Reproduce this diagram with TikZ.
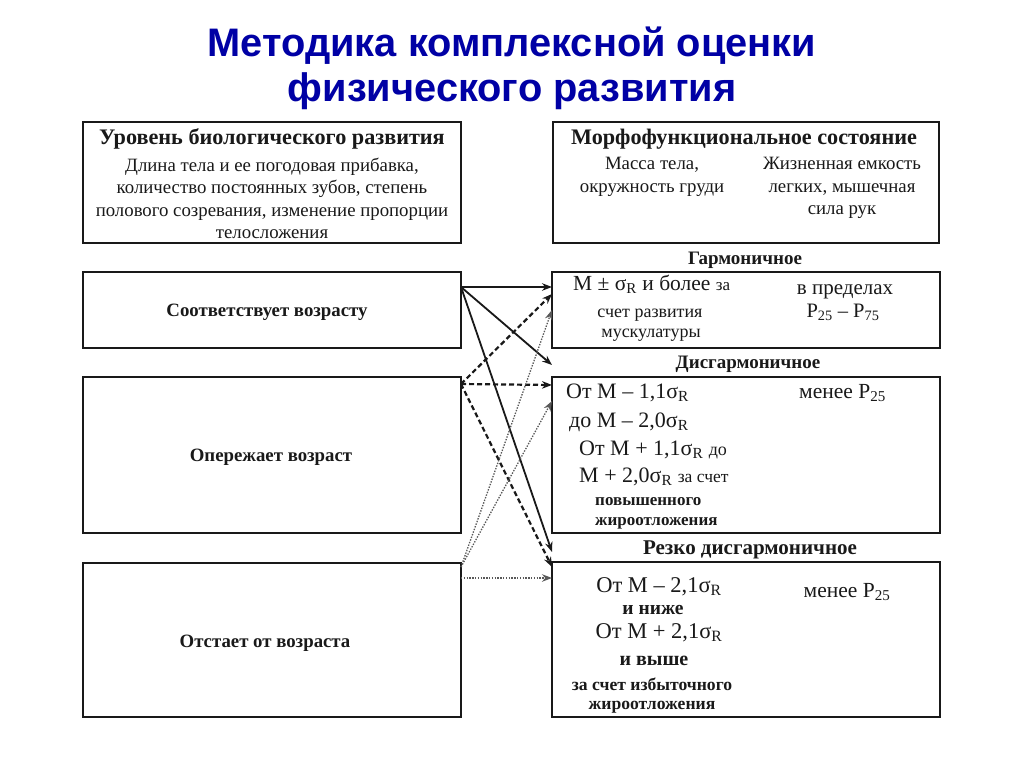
\documentclass[tikz,border=0pt]{standalone}
\usepackage{fontspec}
\setmainfont{Liberation Serif}
\newfontfamily\titlefont{Liberation Sans}
\usetikzlibrary{arrows.meta}
\definecolor{titleblue}{RGB}{0,0,165}
\definecolor{ink}{RGB}{25,25,25}
\newcommand{\fs}[1]{\fontsize{#1}{#1}\selectfont}
\newcommand{\fsb}[2]{\fontsize{#1}{#2}\selectfont}
\newcommand{\sg}{σ\textsubscript{R}}
\tikzset{
  box/.style={draw=ink, line width=2.6pt, inner sep=0pt, outer sep=0pt, minimum width=378pt},
  rbox/.style={box, minimum width=388pt},
  txt/.style={inner sep=0pt, text=ink},
  head/.style={txt, anchor=base, font=\bfseries\fs{22.2}},
  body/.style={txt, align=center, font=\fsb{18.8}{22.5}},
  big/.style={txt, font=\fs{22.5}},
  small/.style={txt, font=\bfseries\fs{17}},
  lab/.style={txt, font=\bfseries\fs{19}},
  tip/.style={-{Stealth[length=10pt,width=7.5pt]}},
  solidarr/.style={tip, line width=1.8pt, draw=ink},
  dasharr/.style={tip, line width=2.2pt, draw=ink, dash pattern=on 5pt off 3pt},
  dotarr/.style={tip, line width=1.3pt, draw=gray!70!black, dash pattern=on 1.4pt off 1.4pt},
}
\begin{document}
\begin{tikzpicture}[x=1pt,y=-1pt]
\useasboundingbox[fill=white] (0,0) rectangle (1024,767);
% title
\node[txt, text=titleblue, align=center, font=\titlefont\bfseries\fs{39.8}] (title1) at (512,46) {Методика комплексной оценки};
\node[txt, text=titleblue, align=center, font=\titlefont\bfseries\fs{39.8}] (title2) at (512,91) {физического развития};
% boxes
\node[box, minimum height=121pt] (TL) at (272,182.5) {};
\node[box, minimum width=386pt, minimum height=121pt] (TR) at (746,182.5) {};
\node[box, minimum height=76pt] (A1) at (272,310) {};
\node[box, minimum height=156pt] (A2) at (272,455) {};
\node[box, minimum height=154pt] (A3) at (272,640) {};
\node[rbox, minimum height=76pt] (H) at (746,310) {};
\node[rbox, minimum height=156pt] (D) at (746,455) {};
\node[rbox, minimum height=155pt] (R) at (746,639.5) {};
% top-left text
\node[head] (tlh) at (272,145) {Уровень биологического развития};
\node[body] (tlb) at (272,198.5) {Длина тела и ее погодовая прибавка,\\количество постоянных зубов, степень\\полового созревания, изменение пропорции\\телосложения};
% top-right text
\node[head] (trh) at (744,145) {Морфофункциональное состояние};
\node[body] (trl) at (652,177) {Масса тела,\\окружность груди};
\node[body] (trr) at (842,188) {Жизненная емкость\\легких, мышечная\\сила рук};
% left labels
\node[lab, font=\bfseries\fs{18.8}] (a1t) at (267,312) {Соответствует возрасту};
\node[lab, font=\bfseries\fs{18.8}] (a2t) at (271,457) {Опережает возраст};
\node[lab, font=\bfseries\fs{18.8}] (a3t) at (265,643) {Отстает от возраста};
% category labels
\node[lab, anchor=base] (hl) at (745,264) {Гармоничное};
\node[lab, anchor=base] (dl) at (748,368) {Дисгармоничное};
\node[lab, anchor=base, font=\bfseries\fs{21}] (rl) at (750,554) {Резко дисгармоничное};
% harmonic box
\node[big, font=\fs{21.5}, anchor=base west] (h1) at (573,290) {M ± \sg{} и более {\fs{17}за}};
\node[txt, anchor=base, font=\fs{18}] (h2) at (650,317) {счет развития};
\node[txt, anchor=base, font=\fs{18}] (h3) at (651,337) {мускулатуры};
\node[big, anchor=base, font=\fs{21}] (h4) at (845,294) {в пределах};
\node[big, anchor=base, font=\fs{20.5}] (h5) at (843,317) {P\textsubscript{25} – P\textsubscript{75}};
% disharmonic box
\node[big, font=\fs{22}, anchor=base west] (d1) at (566,398) {От M – 1,1\sg};
\node[big, font=\fs{22}, anchor=base west] (d2) at (569,427) {до M – 2,0\sg};
\node[big, font=\fs{22}, anchor=base west] (d3) at (579,455) {От M + 1,1\sg{} {\fs{18}до}};
\node[big, font=\fs{22}, anchor=base west] (d4) at (579,482) {M + 2,0\sg{} {\fs{17.5}за счет}};
\node[small, anchor=base west] (d5) at (595,505) {повышенного};
\node[small, anchor=base west] (d6) at (595,525) {жироотложения};
\node[big, font=\fs{21.5}, anchor=base west] (d7) at (799,398) {менее P\textsubscript{25}};
% sharply disharmonic box
\node[big, anchor=base, font=\fs{22.5}] (r1) at (659,592) {От M – 2,1\sg};
\node[lab, anchor=base, font=\bfseries\fs{19.5}] (r2) at (653,614) {и ниже};
\node[big, anchor=base, font=\fs{22.5}] (r3) at (659,638) {От M + 2,1\sg};
\node[lab, anchor=base, font=\bfseries\fs{20}] (r4) at (654,665) {и выше};
\node[small, anchor=base, font=\bfseries\fs{17.6}] (r5) at (652,690) {за счет избыточного};
\node[small, anchor=base, font=\bfseries\fs{17.6}] (r6) at (652,709) {жироотложения};
\node[big, anchor=base, font=\fs{21.5}] (r7) at (847,597) {менее P\textsubscript{25}};
% connector end points
\coordinate (s1) at ([yshift=-15pt]A1.north east);
\coordinate (s2) at ([yshift=-7pt]A2.north east);
\coordinate (s3) at ([yshift=-4pt]A3.north east);
\coordinate (s3b) at ([yshift=-15pt]A3.north east);
\coordinate (h1e) at ([yshift=-15pt]H.north west);
\coordinate (h2e) at ([yshift=-22pt]H.north west);
\coordinate (h3e) at ([yshift=-38pt]H.north west);
\coordinate (d0e) at ([yshift=12pt]D.north west);
\coordinate (d1e) at ([yshift=-8pt]D.north west);
\coordinate (d2e) at ([yshift=-24pt]D.north west);
\coordinate (r0e) at ([yshift=10pt]R.north west);
\coordinate (r1e) at ([yshift=-5pt]R.north west);
\coordinate (r2e) at ([yshift=-16pt]R.north west);
% connectors
\draw[solidarr] (s1) -- (h1e);
\draw[solidarr] (s1) -- (d0e);
\draw[solidarr] (s1) -- (r0e);
\draw[dasharr] (s2) -- (h2e);
\draw[dasharr] (s2) -- (d1e);
\draw[dasharr] (s2) -- (r1e);
\draw[dotarr] (s3) -- (h3e);
\draw[dotarr] (s3) -- (d2e);
\draw[dotarr] (s3b) -- (r2e);
\end{tikzpicture}
\end{document}
